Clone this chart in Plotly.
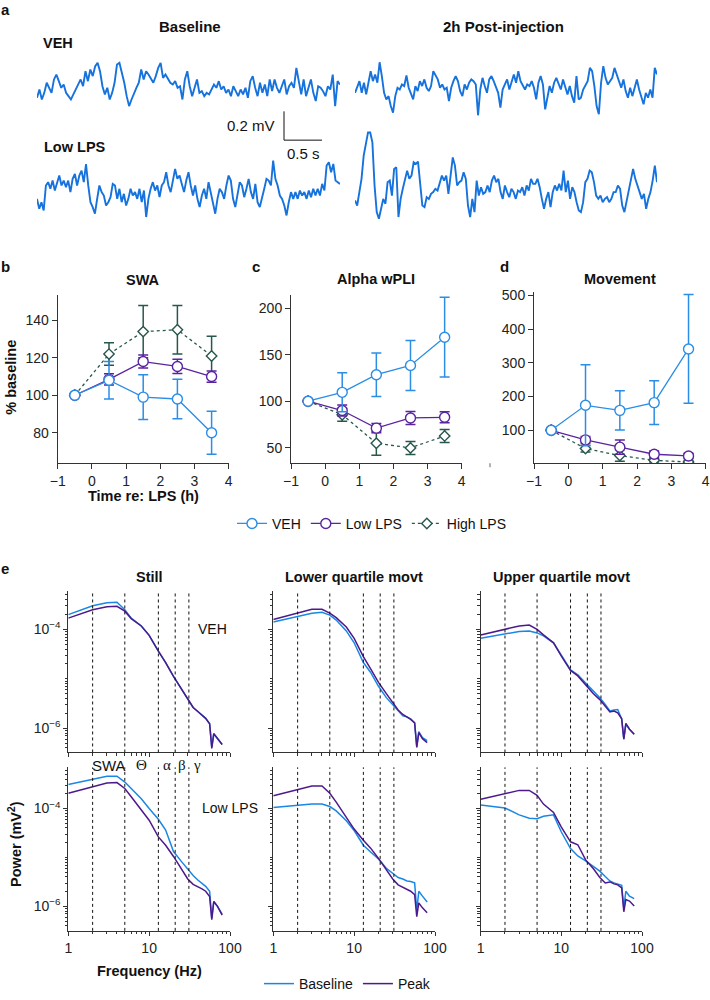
import math
import plotly.graph_objects as go

W, H = 710, 1000
FONT = "Liberation Sans, Arial, sans-serif"

# ---------------- Panel a: EEG traces (µV), uniformly sampled over ~4 s ----------------
veh_base_uv = [-92, -35, -104, -58, 12, -23, -58, 35, 69, 23, -23, 0, -58, -81, -104, -69, -35, 0, 35, -12,
               92, 23, 104, 58, 127, 150, 92, -12, -69, -23, -104, -58, 12, 138, 150, 81, 12, -81, -150, -104,
               -58, -23, 12, 104, 35, 92, 69, 35, 12, 58, 115, 150, 46, 69, 35, 12, 0, 23, -23, -12,
               -104, 35, 92, -12, -81, -12, 35, -58, -46, -81, -58, -69, -35, 0, -23, 23, -35, -12, -58, -35,
               -81, -12, -46, -81, -35, -69, -23, -92, 23, 58, -23, -81, 12, -58, 0, -81, 35, -46, 35, -23,
               -58, -12, 35, -69, -12, 12, -23, 115, 23, -69, 35, -81, -23, 35, -58, -115, -12, -23, -46, -81,
               -12, -35, 69, -150, 23, 0]
veh_post_uv = [-35, 0, 46, -35, 35, -46, 23, 115, 46, 92, 35, 177, 81, -35, -81, -58, -127, -173, -58, 0,
               -12, 23, 12, 85, 0, -35, -81, 12, -23, 46, 12, 58, 0, -23, 12, 115, 81, 58, 0, 23,
               -12, 0, -92, 0, 46, 81, 46, -23, -58, 23, -12, 35, 58, 46, 23, -191, -12, 69, 12, -35,
               58, 81, 46, 0, -35, -138, -12, 23, 58, -12, 35, 92, 35, 115, 46, 12, -12, 23, 12, 46,
               0, -81, 35, 81, 23, -150, -58, 12, -35, 35, 69, 23, -12, 58, 0, -46, 12, -58, -104, 81,
               -81, -69, -12, 23, 46, 138, 115, 12, -127, -184, 35, 150, 69, 23, 46, 69, 138, 92, 58, 0,
               58, -23, -69, 0, -58, 12, 58, -12, -58, -115, -35, -69, -12, -69, 138, 92]
low_base_uv = [-35, -104, -58, -115, 58, 81, 35, 92, 23, 69, 127, 58, 92, 46, 92, 12, 104, 138, 58, 127,
               161, 81, 207, 58, -58, -92, -138, -35, 58, 12, -12, -81, -58, -23, 69, 58, -35, 35, -58, 0,
               -81, -35, 35, -12, 12, -35, 35, -58, 23, -161, -35, 35, 81, 23, 58, -23, 58, 81, 150, 58,
               12, 92, 173, 104, 127, 69, 12, 92, 150, 58, -12, 58, -35, -92, -12, 35, -35, 81, 12, -69,
               -138, -35, 35, 12, -35, 58, 127, 92, -35, -92, 12, 81, 58, -23, 35, 104, 12, -35, 69, -58,
               -92, -35, 35, 104, 92, 58, 230, 104, 58, -12, -35, -81, -150, -58, 12, -35, 12, -35, 23, -12,
               12, -35, 23, -23, 35, -12, 35, -12, 69, 23, 196, 219, 150, 207, 92, 81, 69]
low_post_uv = [-46, -81, 12, 104, 265, 334, 426, 426, 357, 58, -127, -173, -92, -35, -69, 81, 92, -12, 173, 184,
               -161, -35, 35, 92, 161, 104, 127, 219, 207, 223, 58, -81, -92, -23, -35, 0, 12, 35, 23, 69,
               127, 92, 127, 0, 127, 253, 196, 58, 81, 92, 150, 104, -81, -161, -35, -127, 92, -12, 46, 0,
               12, 58, 12, 92, 127, 81, 104, 12, -35, 58, 12, -23, 35, 12, -35, 23, 12, 46, -12, 58,
               23, 104, 69, 69, 104, 46, -35, -104, -35, 12, -92, 12, 58, 23, 69, 23, 161, 12, 92, -35,
               46, 12, -58, -115, -127, -58, 81, 104, 161, 150, 81, -12, -35, -12, -58, -35, -23, -58, -35, 12,
               12, 58, 35, -81, -127, -58, 12, 92, 173, 104, 58, 12, -35, 0, -104, -35, 12, 92, 196, 81]
scale_bar_mv = 0.2
scale_bar_s = 0.5

# ---------------- Panels b-d ----------------
hours = [-0.5, 0.5, 1.5, 2.5, 3.5]
swa_veh = [100, 108, 99, 98, 80]
swa_veh_err = [0, 10, 12, 10.5, 11.5]
swa_low = [100, 108.5, 118, 115.4, 110]
swa_low_err = [0, 3, 3.5, 3.8, 3]
swa_high = [100, 122, 134, 135, 121]
swa_high_err = [0, 6, 14, 13, 10.5]

wpli_veh = [100, 109.6, 128.6, 138.6, 169]
wpli_veh_err = [0, 21, 23.5, 27, 43]
wpli_low = [100, 90, 71, 82, 82.7]
wpli_low_err = [0, 6, 5, 7, 6]
wpli_high = [100, 85.5, 54.7, 49.7, 62.6]
wpli_high_err = [0, 7, 13, 7, 7]

move_veh = [100, 174, 159, 182, 341]
move_veh_err = [0, 120, 58, 65, 161]
move_low = [100, 71.5, 50, 29, 24]
move_low_err = [0, 10, 21, 10, 8]
move_high = [100, 46, 25, 11, 6]
move_high_err = [0, 10, 17, 5, 4]

# ---------------- Panel e: power spectra, log10(power in mV^2) ----------------
freq_hz = [1, 2, 3, 4, 5, 6, 8, 10, 13, 16, 20, 25, 30, 35, 40, 45, 50, 56, 59.5, 63, 70, 80]
still_veh_base = [-3.70, -3.52, -3.46, -3.45, -3.60, -3.77, -3.93, -4.12, -4.44, -4.67, -4.95, -5.21, -5.42, -5.58, -5.66, -5.73, -5.80, -5.91, -6.38, -6.11, -6.21, -6.33]
still_veh_peak = [-3.77, -3.60, -3.54, -3.53, -3.63, -3.78, -3.93, -4.12, -4.44, -4.67, -4.95, -5.21, -5.42, -5.58, -5.66, -5.73, -5.80, -5.91, -6.41, -6.11, -6.21, -6.33]
still_low_base = [-3.51, -3.40, -3.34, -3.34, -3.46, -3.59, -3.80, -4.00, -4.22, -4.44, -4.88, -5.08, -5.24, -5.37, -5.46, -5.53, -5.59, -5.69, -6.24, -5.90, -6.00, -6.16]
still_low_peak = [-3.69, -3.56, -3.48, -3.47, -3.59, -3.76, -4.03, -4.24, -4.58, -4.75, -4.98, -5.22, -5.44, -5.55, -5.59, -5.64, -5.69, -5.80, -6.27, -5.90, -6.00, -6.18]
lowmov_veh_base = [-3.85, -3.73, -3.67, -3.65, -3.71, -3.81, -4.03, -4.27, -4.67, -4.87, -5.15, -5.38, -5.53, -5.65, -5.75, -5.77, -5.81, -5.89, -6.37, -6.07, -6.19, -6.25]
lowmov_veh_peak = [-3.80, -3.66, -3.59, -3.59, -3.67, -3.76, -3.95, -4.18, -4.55, -4.80, -5.07, -5.30, -5.48, -5.63, -5.72, -5.77, -5.82, -5.89, -6.39, -6.09, -6.21, -6.29]
lowmov_low_base = [-3.98, -3.93, -3.91, -3.91, -3.96, -4.05, -4.25, -4.45, -4.75, -4.89, -5.03, -5.22, -5.32, -5.41, -5.44, -5.48, -5.49, -5.52, -6.09, -5.69, -5.79, -5.91]
lowmov_low_peak = [-3.74, -3.61, -3.54, -3.54, -3.69, -3.87, -4.18, -4.42, -4.65, -4.81, -5.02, -5.26, -5.44, -5.56, -5.61, -5.66, -5.69, -5.76, -6.21, -5.93, -6.03, -6.13]
upmov_veh_base = [-4.18, -4.09, -4.04, -4.03, -4.07, -4.13, -4.27, -4.52, -4.82, -4.92, -5.08, -5.25, -5.38, -5.52, -5.65, -5.63, -5.62, -5.81, -6.22, -5.92, -6.02, -6.12]
upmov_veh_peak = [-4.11, -4.00, -3.93, -3.91, -4.00, -4.11, -4.27, -4.54, -4.83, -4.94, -5.12, -5.30, -5.42, -5.55, -5.67, -5.65, -5.69, -5.81, -6.22, -5.90, -6.02, -6.12]
upmov_low_base = [-3.93, -3.99, -4.13, -4.20, -4.21, -4.16, -4.13, -4.48, -4.82, -4.97, -5.07, -5.19, -5.28, -5.39, -5.48, -5.52, -5.54, -5.57, -6.03, -5.69, -5.79, -5.84]
upmov_low_peak = [-3.81, -3.69, -3.63, -3.63, -3.73, -3.91, -4.08, -4.38, -4.68, -4.74, -5.05, -5.23, -5.41, -5.52, -5.50, -5.54, -5.56, -5.62, -6.11, -5.86, -5.89, -5.99]
band_edges_hz = [2, 5, 13, 21, 31]
band_labels = ["SWA", "Θ", "α", "β", "γ"]
band_label_hz = [3.2, 8.1, 16.5, 25.5, 39]

# ---------------- styling ----------------
TRACE_C = "#1672dc"
VEH_C = "#2b8de6"
LOW_C = "#5a23a0"
HIGH_C = "#27574d"
BASE_C = "#1a87e4"
PEAK_C = "#4d1a8c"
AX_C = "#333333"


def xd(a, b):
    return [a / W, b / W]


def yd(top, bottom):
    return [1 - bottom / H, 1 - top / H]


fig = go.Figure()
layout = {}

# ---- panel a axes (1-4)
uv_per_px = 200.0 / 29.0
trace_specs = [
    (1, veh_base_uv, (37, 340), (40, 130), 85.0),
    (2, veh_post_uv, (355, 657), (40, 130), 88.3),
    (3, low_base_uv, (37, 340), (130, 232), 195.0),
    (4, low_post_uv, (355, 657), (130, 232), 195.0),
]
for n, vals, (x0, x1), (top, bot), center in trace_specs:
    fig.add_trace(go.Scatter(y=vals, mode="lines", line=dict(color=TRACE_C, width=1.9),
                             xaxis=f"x{n}", yaxis=f"y{n}", showlegend=False, hoverinfo="skip"))
    layout[f"xaxis{n}"] = dict(domain=xd(x0, x1), anchor=f"y{n}", visible=False, automargin=False,
                               range=[0, len(vals) - 1])
    layout[f"yaxis{n}"] = dict(domain=yd(top, bot), anchor=f"x{n}", visible=False, automargin=False,
                               range=[-(bot - center) * uv_per_px, (center - top) * uv_per_px])

# ---- panels b-d (5-7)
bcd = [
    (5, (57.7, 228.7), (296.7, 466), [63.7, 153.6], [80, 100, 120, 140],
     (swa_veh, swa_veh_err), (swa_low, swa_low_err), (swa_high, swa_high_err)),
    (6, (291, 461.7), (296.7, 466), [33.2, 214.6], [50, 100, 150, 200],
     (wpli_veh, wpli_veh_err), (wpli_low, wpli_low_err), (wpli_high, wpli_high_err)),
    (7, (534, 705.7), (293.3, 466), [2.5, 511], [100, 200, 300, 400, 500],
     (move_veh, move_veh_err), (move_low, move_low_err), (move_high, move_high_err)),
]
axis_common = dict(showline=True, linecolor=AX_C, linewidth=1, ticks="outside", ticklen=5,
                   tickcolor=AX_C, tickfont=dict(size=14, color="#222", family=FONT),
                   showgrid=False, zeroline=False, automargin=False)
for n, (x0, x1), (top, bot), yr, yt, veh, low, high in bcd:
    first = n == 5
    for (vals, err), name, col, sym, dash, rank, msize in [
        (high, "High LPS", HIGH_C, "diamond", "dot", 3, 8),
        (low, "Low LPS", LOW_C, "circle", "solid", 2, 10),
        (veh, "VEH", VEH_C, "circle", "solid", 1, 10),
    ]:
        fig.add_trace(go.Scatter(
            x=hours, y=vals, name=name, mode="lines+markers",
            line=dict(color=col, width=1.3, dash=dash),
            marker=dict(symbol=sym, size=msize, color="white", line=dict(color=col, width=1.4)),
            error_y=dict(type="data", array=err, color=col, thickness=1.5, width=5),
            xaxis=f"x{n}", yaxis=f"y{n}", showlegend=first, legendrank=rank, legend="legend"))
    layout[f"xaxis{n}"] = dict(domain=xd(x0, x1), anchor=f"y{n}", range=[-1, 4],
                               tickvals=[-1, 0, 1, 2, 3, 4], **axis_common)
    layout[f"yaxis{n}"] = dict(domain=yd(top, bot), anchor=f"x{n}", range=yr, tickvals=yt, **axis_common)

# ---- panel e (8-13)
e_cols = [(68.3, 230), (273.3, 435), (480.7, 642)]
e_rows = [((595, 757), [-6.49, -3.23]), ((772, 936.5), [-6.50, -3.16])]
e_series = [
    [(still_veh_base, still_veh_peak), (lowmov_veh_base, lowmov_veh_peak), (upmov_veh_base, upmov_veh_peak)],
    [(still_low_base, still_low_peak), (lowmov_low_base, lowmov_low_peak), (upmov_low_base, upmov_low_peak)],
]
minor_x = [m * d for d in (1, 10) for m in range(2, 10)]
minor_y = [m * 10.0 ** e for e in (-7, -6, -5, -4) for m in range(1, 10) if not (m == 1 and e in (-6, -4))]
shapes = []
n = 8
for r, ((top, bot), yr) in enumerate(e_rows):
    for c, (x0, x1) in enumerate(e_cols):
        base, peak = e_series[r][c]
        for vals, name, col in [(base, "Baseline", BASE_C), (peak, "Peak", PEAK_C)]:
            fig.add_trace(go.Scatter(
                x=freq_hz, y=[10 ** v for v in vals], name=name, mode="lines",
                line=dict(color=col, width=1.5), xaxis=f"x{n}", yaxis=f"y{n}",
                showlegend=(r == 1 and c == 1), legend="legend2", hoverinfo="skip"))
        ax = dict(axis_common)
        ax.update(ticklen=4)
        layout[f"xaxis{n}"] = dict(domain=xd(x0, x1), anchor=f"y{n}", type="log", range=[0, 2],
                                   tickvals=[1, 10, 100], ticktext=["1", "10", "100"],
                                   showticklabels=(r == 1),
                                   minor=dict(tickvals=minor_x, ticks="outside", ticklen=2.5,
                                              tickcolor=AX_C, showgrid=False),
                                   **ax)
        layout[f"yaxis{n}"] = dict(domain=yd(top, bot), anchor=f"x{n}", type="log", range=yr,
                                   tickvals=[1e-6, 1e-4],
                                   ticktext=["10<sup>−6</sup>", "10<sup>−4</sup>"],
                                   showticklabels=(c == 0),
                                   minor=dict(tickvals=minor_y, ticks="outside", ticklen=2.5,
                                              tickcolor=AX_C, showgrid=False),
                                   **ax)
        for edge in band_edges_hz:
            shapes.append(dict(type="line", xref=f"x{n}", yref=f"y{n} domain", x0=edge, x1=edge,
                               y0=0, y1=1, line=dict(color="#111", width=1, dash="dot")))
        n += 1

# scale bar (0.2 mV vertical, 0.5 s horizontal) and a stray tick under panel d
shapes.append(dict(type="line", xref="paper", yref="paper", x0=284 / W, x1=284 / W,
                   y0=1 - 112 / H, y1=1 - 141 / H, line=dict(color="#111", width=1)))
shapes.append(dict(type="line", xref="paper", yref="paper", x0=284 / W, x1=322 / W,
                   y0=1 - 141 / H, y1=1 - 141 / H, line=dict(color="#111", width=1)))
shapes.append(dict(type="line", xref="paper", yref="paper", x0=490 / W, x1=490 / W,
                   y0=1 - 466 / H, y1=1 - 470 / H, line=dict(color="#666", width=1)))

annotations = []


def ann(text, px, py, size=14, bold=False, xanchor="center", angle=0, family=FONT, color="#111"):
    t = f"<b>{text}</b>" if bold else text
    annotations.append(dict(text=t, x=px / W, y=1 - py / H, xref="paper", yref="paper",
                            xanchor=xanchor, yanchor="middle", showarrow=False, textangle=angle,
                            font=dict(size=size, family=family, color=color)))


ann("a", 5, 10, 15, True)
ann("Baseline", 190, 27, 15, True)
ann("2h Post-injection", 503, 27, 15, True)
ann("VEH", 41, 43, 14.5, True, "left")
ann("Low LPS", 42, 148, 14.5, True, "left")
ann(f"{scale_bar_mv} mV", 277, 126, 15, False, "right")
ann(f"{scale_bar_s} s", 303, 154, 15)
ann("b", 5, 268, 15, True)
ann("c", 256, 268, 15, True)
ann("d", 504, 268, 15, True)
ann("SWA", 143, 282, 14.5, True)
ann("Alpha wPLI", 376, 281, 14.5, True)
ann("Movement", 620, 281, 14.5, True)
ann("% baseline", 11, 380, 14.5, True, angle=-90)
ann("Time re: LPS (h)", 143, 499, 14.5, True)
ann("e", 5, 572, 15, True)
ann("Still", 149, 580, 14.5, True)
ann("Lower quartile movt", 354, 580, 14.5, True)
ann("Upper quartile movt", 561, 580, 14.5, True)
ann("VEH", 212, 633, 14)
ann("Low LPS", 200, 813, 14, False, "left")
ann("Power (mV<sup>2</sup>)", 15, 849, 14.5, True, angle=-90)
ann("Frequency (Hz)", 149, 977, 14.5, True)
for lab, hz in zip(band_labels, band_label_hz):
    fam = FONT if lab == "SWA" else "Liberation Serif, Times New Roman, serif"
    annotations.append(dict(text=lab, x=math.log10(hz), xref="x8", y=1 - 770 / H, yref="paper",
                            xanchor="center", yanchor="middle", showarrow=False,
                            font=dict(size=15, family=fam, color="#111")))

layout.update(
    template="none",
    width=W, height=H, margin=dict(l=0, r=0, t=0, b=0, pad=0), autosize=False,
    paper_bgcolor="white", plot_bgcolor="white",
    font=dict(family=FONT, size=14, color="#111"),
    shapes=shapes, annotations=annotations,
    legend=dict(orientation="h", x=232 / W, xanchor="left", y=1 - 527 / H, yanchor="middle",
                font=dict(size=14, family=FONT, color="#111"), bgcolor="rgba(0,0,0,0)",
                itemwidth=30, traceorder="normal"),
    legend2=dict(orientation="h", x=259 / W, xanchor="left", y=1 - 990 / H, yanchor="middle",
                 font=dict(size=14, family=FONT, color="#111"), bgcolor="rgba(0,0,0,0)",
                 itemwidth=30),
)
fig.update_layout(**layout)
fig.write_html("out.html", config={"displayModeBar": False},
               post_script="document.body.style.margin='0px';")
